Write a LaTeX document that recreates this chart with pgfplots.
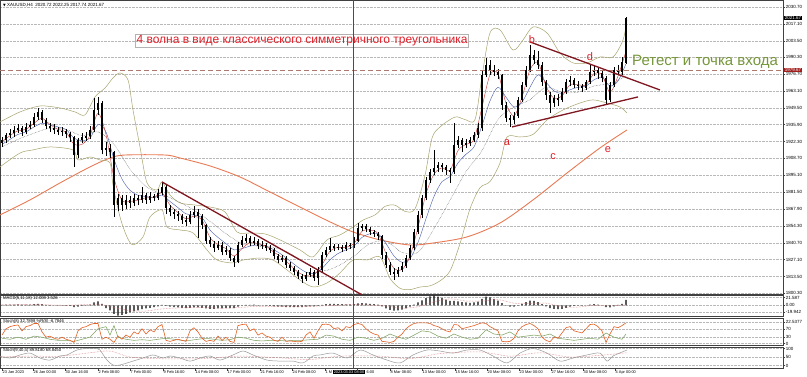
\documentclass[border=0pt]{standalone}
\usepackage{pgfplots}
\pgfplotsset{compat=1.18}
\usepackage{pgfplotstable}
\usepackage{fontspec}
\setmainfont{Liberation Sans}
\newfontfamily\dejavu{DejaVu Sans}
\definecolor{mao}{RGB}{232,122,84}
\definecolor{bbc}{RGB}{168,164,110}
\definecolor{mar}{RGB}{200,50,50}
\definecolor{mab}{RGB}{70,90,170}
\definecolor{trend}{RGB}{128,22,32}
\definecolor{lvl}{RGB}{175,120,110}
\definecolor{gridc}{RGB}{185,185,185}
\definecolor{txtred}{RGB}{222,32,42}
\definecolor{olivetxt}{RGB}{118,150,58}
\definecolor{stocho}{RGB}{228,96,36}
\definecolor{stochg}{RGB}{130,165,100}
\definecolor{lvlbox}{RGB}{160,30,30}
\newcommand{\tinyf}{\fontsize{4.5}{5}\selectfont}
\newcommand{\datef}{\fontsize{3.9}{4.5}\selectfont}

\pgfplotstableread{
x o h l c
2 1921.0 1926.0 1918.0 1923.5
6 1923.5 1929.5 1921.0 1927.5
10 1927.5 1932.0 1925.0 1929.2
14 1929.2 1934.5 1926.0 1931.6
18 1931.6 1936.0 1929.0 1933.2
22 1933.2 1935.0 1927.0 1930.0
26 1930.0 1937.0 1928.0 1934.0
30 1934.0 1939.0 1932.0 1935.6
34 1935.6 1945.0 1934.0 1942.1
38 1942.1 1949.0 1940.0 1946.1
42 1946.1 1947.5 1937.0 1939.6
46 1939.6 1941.0 1932.0 1934.8
50 1934.8 1937.5 1930.0 1933.2
54 1933.2 1936.0 1928.5 1931.6
58 1931.6 1934.0 1927.5 1930.0
62 1930.0 1934.0 1927.0 1930.8
66 1930.8 1932.5 1925.0 1928.4
70 1928.4 1930.0 1922.0 1925.9
74 1925.9 1927.0 1901.8 1911.4
78 1911.4 1925.0 1909.0 1923.5
82 1923.5 1929.0 1921.0 1925.9
86 1925.9 1930.0 1923.0 1926.7
90 1926.7 1935.0 1924.0 1931.6
94 1931.6 1957.4 1930.0 1947.7
98 1947.7 1958.2 1944.0 1953.3
102 1953.3 1955.0 1912.0 1915.5
106 1915.5 1922.0 1911.0 1917.1
110 1917.1 1920.0 1909.0 1913.9
114 1913.9 1915.0 1861.5 1871.1
118 1871.1 1880.0 1866.0 1876.8
122 1876.8 1879.0 1866.5 1871.1
126 1871.1 1879.0 1868.0 1875.2
130 1875.2 1878.0 1869.0 1872.7
134 1872.7 1880.0 1870.0 1876.8
138 1876.8 1879.0 1871.0 1875.2
142 1875.2 1885.7 1873.0 1879.2
146 1879.2 1881.0 1872.0 1875.2
150 1875.2 1881.5 1873.0 1878.4
154 1878.4 1880.0 1874.0 1876.8
158 1876.8 1884.0 1875.0 1880.8
162 1880.8 1889.7 1879.0 1885.7
166 1885.7 1887.0 1864.0 1868.7
170 1868.7 1871.0 1862.0 1865.5
174 1865.5 1868.0 1860.0 1863.9
178 1863.9 1866.0 1858.5 1862.3
182 1862.3 1864.0 1856.0 1859.1
186 1859.1 1862.0 1854.5 1857.5
190 1857.5 1866.0 1855.5 1863.1
194 1863.1 1870.0 1861.0 1865.5
198 1865.5 1867.5 1844.6 1862.3
202 1862.3 1863.5 1852.0 1855.0
206 1855.0 1856.0 1840.0 1842.8
210 1842.8 1845.0 1837.0 1839.7
214 1839.7 1842.0 1833.5 1836.5
218 1836.5 1842.5 1835.0 1838.9
222 1838.9 1841.0 1830.5 1833.3
226 1833.3 1838.0 1831.0 1834.9
230 1834.9 1836.5 1826.0 1828.4
234 1828.4 1830.0 1821.2 1825.2
238 1825.2 1841.0 1824.0 1838.9
242 1838.9 1846.0 1837.0 1842.8
246 1842.8 1848.0 1840.5 1844.4
250 1844.4 1846.0 1838.0 1840.5
254 1840.5 1845.0 1838.5 1842.1
258 1842.1 1844.0 1836.0 1838.1
262 1838.1 1842.0 1836.0 1838.9
266 1838.9 1840.5 1834.0 1836.5
270 1836.5 1839.0 1832.5 1834.9
274 1834.9 1836.5 1827.5 1830.0
278 1830.0 1832.0 1824.0 1826.8
282 1826.8 1831.0 1825.0 1828.4
286 1828.4 1830.0 1820.0 1822.8
290 1822.8 1825.0 1818.0 1820.4
294 1820.4 1822.0 1815.0 1817.2
298 1817.2 1819.0 1811.5 1813.9
302 1813.9 1815.5 1808.3 1811.5
306 1811.5 1817.0 1810.0 1814.7
310 1814.7 1820.0 1813.0 1817.2
314 1817.2 1819.0 1810.0 1812.3
318 1812.3 1821.0 1806.7 1818.8
322 1818.8 1833.0 1817.0 1830.9
326 1830.9 1837.0 1829.0 1834.9
330 1834.9 1844.6 1833.0 1838.1
334 1838.1 1840.0 1834.0 1836.5
338 1836.5 1840.0 1834.5 1837.3
342 1837.3 1839.0 1833.0 1835.7
346 1835.7 1841.0 1834.0 1838.9
350 1838.9 1840.5 1836.0 1838.1
354 1838.1 1845.0 1836.5 1842.8
358 1842.8 1856.6 1841.0 1852.6
362 1852.6 1856.0 1850.0 1854.2
366 1854.2 1855.5 1849.0 1851.8
370 1851.8 1853.5 1847.0 1849.3
374 1849.3 1851.0 1845.5 1847.7
378 1847.7 1849.5 1843.0 1846.1
382 1846.1 1847.0 1828.0 1830.9
386 1830.9 1833.0 1820.0 1822.8
390 1822.8 1825.0 1815.0 1817.2
394 1817.2 1820.0 1810.7 1815.6
398 1815.6 1821.0 1813.0 1818.8
402 1818.8 1825.0 1817.0 1822.0
406 1822.0 1831.0 1820.5 1828.4
410 1828.4 1839.0 1827.0 1836.5
414 1836.5 1852.0 1835.0 1849.3
418 1849.3 1866.0 1848.0 1863.1
422 1863.1 1879.0 1861.0 1876.8
426 1876.8 1894.0 1875.0 1891.3
430 1891.3 1900.0 1889.0 1897.8
434 1897.8 1915.5 1895.0 1901.0
438 1901.0 1906.0 1898.0 1903.4
442 1903.4 1905.0 1897.5 1901.8
446 1901.8 1903.0 1895.0 1899.4
450 1899.4 1901.0 1888.9 1897.8
454 1897.8 1937.2 1896.0 1919.5
458 1919.5 1927.0 1917.0 1923.5
462 1923.5 1925.0 1914.0 1919.5
466 1919.5 1924.0 1917.0 1921.1
470 1921.1 1926.0 1919.0 1923.5
474 1923.5 1930.0 1921.5 1927.5
478 1927.5 1937.0 1925.0 1933.2
482 1933.2 1980.0 1931.0 1975.9
486 1975.9 1989.6 1974.0 1984.0
490 1984.0 1988.0 1976.0 1979.9
494 1979.9 1984.0 1975.0 1978.3
498 1978.3 1981.0 1973.0 1975.9
502 1975.9 1977.0 1948.0 1951.7
506 1951.7 1954.0 1938.0 1941.3
510 1941.3 1944.0 1934.0 1939.6
514 1939.6 1946.0 1936.0 1942.9
518 1942.9 1958.0 1941.0 1955.8
522 1955.8 1970.0 1954.0 1967.9
526 1967.9 1983.0 1966.0 1979.9
530 1979.9 2000.1 1978.0 1992.0
534 1992.0 1996.0 1985.0 1988.0
538 1988.0 1995.0 1981.0 1984.0
542 1984.0 1986.0 1967.0 1970.3
546 1970.3 1972.0 1956.0 1959.8
550 1959.8 1962.0 1945.3 1953.3
554 1953.3 1960.0 1950.0 1957.4
558 1957.4 1960.5 1951.0 1955.8
562 1955.8 1965.0 1954.0 1962.2
566 1962.2 1973.0 1960.5 1970.3
570 1970.3 1975.0 1967.0 1971.9
574 1971.9 1973.5 1965.0 1967.9
578 1967.9 1971.0 1963.5 1967.1
582 1967.1 1969.0 1962.0 1965.5
586 1965.5 1972.0 1964.0 1970.3
590 1970.3 1984.0 1969.0 1978.3
594 1978.3 1983.0 1975.0 1979.9
598 1979.9 1982.0 1973.0 1977.5
602 1977.5 1979.0 1970.0 1973.5
606 1973.5 1975.0 1951.7 1955.8
610 1955.8 1970.0 1954.0 1967.9
614 1967.9 1982.0 1966.0 1979.9
618 1979.9 1984.0 1975.5 1978.3
622 1978.3 1990.0 1976.0 1986.0
626 1986.0 2022.3 1985.0 2021.7
}\candles

\pgfplotstableread{
x r b
2 1922 1920
10 1927 1924
18 1931 1928
26 1932 1930
34 1937 1934
42 1941 1937
50 1936 1936
58 1932 1934
66 1930 1932
74 1920 1925
82 1920 1923
90 1927 1925
98 1945 1936
106 1928 1930
114 1893 1908
122 1875 1892
130 1874 1883
138 1875 1879
146 1877 1878
154 1877 1877
162 1881 1879
170 1871 1874
178 1865 1869
186 1860 1864
194 1862 1863
202 1859 1861
210 1845 1851
218 1839 1845
226 1836 1840
234 1830 1835
242 1836 1836
250 1841 1838
258 1840 1839
266 1838 1838
274 1833 1835
282 1829 1831
290 1823 1826
298 1817 1821
306 1814 1817
314 1815 1816
322 1823 1820
330 1834 1827
338 1837 1832
346 1837 1835
354 1840 1838
362 1850 1845
370 1851 1848
378 1848 1848
386 1832 1840
394 1820 1830
402 1819 1825
410 1830 1828
418 1853 1841
426 1880 1860
434 1896 1878
442 1901 1890
450 1899 1894
458 1915 1905
466 1920 1912
474 1924 1918
482 1950 1935
490 1976 1955
498 1977 1966
506 1953 1958
514 1943 1950
522 1958 1954
530 1980 1966
538 1986 1976
546 1967 1970
554 1957 1963
562 1959 1961
570 1968 1964
578 1968 1966
586 1968 1967
594 1977 1972
602 1976 1974
610 1962 1967
618 1975 1971
626 1995 1985
}\mas

\pgfplotstableread{
x s
2 1918
18 1924
34 1929
50 1933
66 1932
82 1927
98 1930
114 1920
130 1900
146 1886
162 1880
178 1874
194 1867
210 1858
226 1848
242 1840
258 1838
274 1837
290 1832
306 1824
322 1818
338 1822
354 1830
370 1840
386 1842
402 1833
418 1833
434 1852
450 1875
466 1898
482 1915
498 1940
514 1950
530 1956
546 1966
562 1962
578 1962
594 1967
610 1969
626 1975
}\slowma

\pgfplotstableread{
x m
0 1863.1
30 1875.2
60 1888.9
90 1901.8
110 1909.0
125 1911.4
165 1911.4
180 1909.0
210 1902.6
240 1893.7
270 1881.6
300 1869.5
330 1857.5
353 1849.4
380 1843.0
410 1838.9
433 1840.5
467 1845.4
500 1856.6
533 1875.2
567 1896.9
600 1917.1
627 1931.6
}\bigma

\pgfplotstableread{
x u
0 1938.0
20 1946.1
40 1950.9
60 1949.3
75 1946.1
85 1943.7
95 1958.2
105 1965.4
113 1973.5
120 1977.5
128 1971.9
133 1947.7
140 1917.9
147 1888.9
157 1883.2
162 1889.7
170 1879.2
180 1872.8
195 1871.1
210 1869.5
225 1865.5
237 1849.4
250 1848.6
265 1847.8
280 1843.0
300 1834.9
313 1829.3
327 1843.0
340 1847.0
353 1853.4
363 1859.0
375 1863.1
385 1870.0
395 1871.0
405 1866.0
415 1868.0
425 1895.0
432 1925.0
440 1934.0
455 1942.0
465 1940.0
475 1940.0
482 1975.0
490 2009.8
500 2012.2
513 1996.0
523 2004.1
533 2014.6
547 2009.8
560 1993.6
573 1985.6
587 1985.6
600 1990.4
613 1990.4
623 2004.1
627 2020.2
}\bbup

\pgfplotstableread{
x d
0 1901.8
20 1913.0
33 1915.5
50 1917.9
73 1915.5
78 1907.4
90 1909.8
100 1907.4
110 1905.0
113 1887.3
120 1861.5
127 1845.4
133 1839.0
143 1845.4
150 1861.5
162 1867.1
167 1853.4
180 1851.0
193 1848.6
207 1834.9
217 1826.8
233 1824.4
243 1826.8
260 1828.4
273 1826.8
287 1818.8
300 1810.7
313 1805.1
327 1808.3
340 1816.4
353 1826.8
367 1826.8
380 1829.3
390 1812.0
400 1804.0
410 1803.0
420 1805.0
430 1806.0
440 1810.0
450 1818.0
460 1840.0
470 1868.0
480 1885.0
490 1890.0
500 1905.0
507 1925.9
520 1925.9
533 1928.0
547 1939.6
563 1947.7
580 1953.3
593 1955.8
607 1953.3
620 1950.1
627 1945.3
}\bbdn

\pgfplotstableread{
x v
2 1
6 1.5
10 2
14 2
18 2.5
22 1.5
26 2
30 2
34 3
38 4
42 3
46 1
50 0.5
54 -0.5
58 -1
62 -1
66 -1.5
70 -2
74 -5
78 -4
82 -2
86 -1
90 2
94 8
98 11
102 4
106 -8
110 -14
114 -24
118 -29
122 -27
126 -24
130 -20
134 -17
138 -14
142 -11
146 -9
150 -7
154 -5
158 -3
162 1
166 -2
170 -4
174 -5
178 -6
182 -7
186 -8
190 -7
194 -6
198 -6
202 -7
206 -9
210 -10
214 -10
218 -9
222 -9
226 -8
230 -8
234 -8
238 -4
242 -1
246 1
250 1
254 1.5
258 0.5
262 0
266 -1
270 -2
274 -3
278 -4
282 -4
286 -5
290 -5
294 -5
298 -5
302 -5
306 -4
310 -3
314 -3
318 -2
322 1
326 3
330 4
334 4
338 3.5
342 3
346 2.5
350 2.5
354 3
358 5
362 6
366 5
370 4
374 3
378 2
382 -3
386 -9
390 -13
394 -15
398 -14
402 -12
406 -9
410 -4
414 2
418 8
422 14
426 20
430 25
434 27
438 24
442 20
446 16
450 12
454 12
458 11
462 9
466 8
470 7
474 8
478 10
482 18
486 24
490 22
494 18
498 13
502 6
506 -1
510 -4
514 -4
518 -1
522 4
526 9
530 13
534 12
538 9
542 3
546 -3
550 -8
554 -10
558 -11
562 -10
566 -7
570 -4
574 -2
578 -1
582 -1
586 0
590 2
594 3
598 2
602 0
606 -5
610 -6
614 -3
618 1
622 4
626 15
}\macdh

\pgfplotstableread{
x s
2 1
34 2
66 0
98 3
114 -6
130 -15
146 -16
162 -10
194 -6
226 -8
258 -3
290 -4
322 -2
354 2
386 -2
402 -8
418 -4
434 10
450 18
466 12
482 12
498 16
514 6
530 5
546 6
562 -4
578 -5
594 0
610 -2
626 2
}\macds

\pgfplotstableread{
x v
2 40
6 70
10 80
14 85
18 88
22 60
26 80
30 85
34 95
38 95
42 55
46 30
50 35
54 25
58 20
62 30
66 20
70 15
74 5
78 60
82 75
86 80
90 90
94 95
98 95
102 20
106 30
110 20
114 5
118 35
122 20
126 40
130 30
134 55
138 45
142 70
146 45
150 65
154 55
158 80
162 90
166 15
170 10
174 15
178 20
182 15
186 10
190 60
194 75
198 55
202 25
206 10
210 15
214 10
218 35
222 15
226 30
230 10
234 5
238 85
242 90
246 92
250 60
254 70
258 40
262 50
266 35
270 30
274 15
278 10
282 30
286 10
290 12
294 10
298 8
302 10
306 40
310 55
314 25
318 60
322 90
326 92
330 88
334 70
338 75
342 60
346 80
350 75
354 90
358 95
362 90
366 70
370 55
374 45
378 40
382 10
386 8
390 5
394 10
398 30
402 45
406 70
410 85
414 95
418 98
422 98
426 98
430 95
434 85
438 80
442 70
446 60
450 55
454 90
458 88
462 70
466 75
470 80
474 85
478 92
482 98
486 95
490 80
494 70
498 60
502 10
506 8
510 10
514 25
518 60
522 80
526 90
530 95
534 85
538 70
542 30
546 15
550 8
554 30
558 25
562 50
566 75
570 80
574 60
578 55
582 50
586 70
590 90
594 92
598 80
602 60
606 5
610 45
614 80
618 75
622 85
626 98
}\stoa

\pgfplotstableread{
x v
2 25
10 20
18 30
26 20
34 35
42 30
50 20
58 15
66 15
74 10
82 20
90 30
98 70
106 80
110 40
114 85
118 30
126 20
134 15
142 18
150 15
158 20
166 25
174 20
182 15
190 15
198 20
206 25
214 20
222 15
230 18
238 30
246 25
254 15
262 12
270 15
278 15
286 12
294 15
302 15
310 18
318 20
326 40
334 35
342 20
350 15
358 30
366 25
374 15
382 25
390 45
398 30
406 20
414 40
422 60
430 55
438 35
446 25
454 45
462 30
470 20
478 25
486 65
494 45
502 40
510 55
518 30
526 35
534 40
542 35
550 45
558 25
566 20
574 15
582 20
590 25
598 20
606 50
614 30
622 20
626 45
}\stob

\pgfplotstableread{
x v
0 54
10 44
20 62
30 73
40 44
50 32
60 56
67 62
77 91
87 100
97 100
100 91
107 32
113 3
120 3
133 26
143 44
153 62
163 44
170 56
180 44
190 26
200 44
210 56
220 32
233 62
243 85
253 62
267 32
280 26
293 26
303 15
313 56
320 62
333 73
347 44
360 91
373 62
387 32
400 15
413 62
427 91
440 85
453 73
467 91
480 91
493 56
507 15
520 73
533 100
547 73
560 26
573 44
587 62
600 73
607 26
613 56
627 91
}\stc

\pgfplotstableread{
x v
0 50
30 55
60 55
90 75
110 85
130 50
160 40
200 40
240 55
280 45
310 35
340 55
380 55
410 40
440 70
480 80
510 55
540 75
570 50
600 60
627 75
}\stcs

\pgfplotsset{panel/.style={scale only axis, width=783pt, xmin=0, xmax=783, anchor=south west,
  axis line style={black!75, line width=0.6pt}, xtick=\empty, tick align=outside, major tick length=2pt,
  ytick pos=right, yticklabel pos=right, yticklabel style={font=\tinyf, inner sep=0.6pt},
  /pgf/number format/assume math mode=true, clip mode=individual,
  ymajorgrids, major grid style={gridc, densely dotted, line width=0.4pt},
  tick style={black!75, line width=0.4pt}}}

\begin{document}
\begin{tikzpicture}[x=1pt,y=1pt]
\useasboundingbox (0,0) rectangle (807,376);
\fill[white] (0,0) rectangle (807,376);

% background vertical grid
\begin{axis}[at={(0pt,7.5pt)}, anchor=south west, width=783pt, height=368.5pt, scale only axis,
  xmin=0, xmax=783, ymin=0, ymax=1, axis lines=none, major tick length=0pt,
  xtick={17.67,37.84,...,783}, xticklabels={}, ytick=\empty,
  xmajorgrids, major grid style={gridc, densely dotted, line width=0.4pt},
  extra x ticks={58,118.5,...,783}, extra x tick labels={},
  extra x tick style={grid=major, major grid style={black!50, dash pattern=on 1.6pt off 1.4pt, line width=0.45pt}}]
\addplot[draw=none] coordinates {(0,0) (783,1)};
\end{axis}

% main price panel
\begin{axis}[panel, at={(0pt,81.5pt)}, height=294.5pt, ymin=1799.0, ymax=2036.3,
  ytick={1800.3,1813.5,1827.1,1840.7,1854.3,1867.9,1881.5,1895.1,1908.7,1922.3,1935.9,1949.5,1963.1,1976.7,1990.3,2003.5,2017.1,2030.7},
  yticklabels={1800.30,1813.50,1827.10,1840.70,1854.30,1867.90,1881.50,1895.10,1908.70,1922.30,1935.90,1949.50,1963.10,1976.70,1990.30,2003.50,2017.10,2030.70}]
\addplot[mao, line width=0.9pt, smooth] table[x=x,y=m] {\bigma};
\addplot[bbc, line width=0.5pt, smooth] table[x=x,y=u] {\bbup};
\addplot[bbc, line width=0.5pt, smooth] table[x=x,y=d] {\bbdn};
\addplot[black!70, line width=0.45pt, densely dotted, smooth] table[x=x,y=s] {\slowma};
\addplot[mab, line width=0.4pt, smooth] table[x=x,y=b] {\mas};
\addplot[mar, line width=0.4pt, smooth] table[x=x,y=r] {\mas};
\addplot[draw=none, mark=none, error bars/.cd, y dir=plus, y explicit, error mark=none,
  error bar style={draw=black, solid, line width=0.5pt}]
  table[x=x, y=l, y error expr=\thisrow{h}-\thisrow{l}] {\candles};
\addplot[draw=none, mark=none, error bars/.cd, y dir=both, y explicit, error mark=none,
  error bar style={draw=black, solid, line width=1.7pt}]
  table[x=x, y expr=(\thisrow{o}+\thisrow{c})/2, y error expr=abs(\thisrow{o}-\thisrow{c})/2+0.3] {\candles};
\addplot[lvl, line width=0.8pt, dash pattern=on 5pt off 3pt] coordinates {(0,1979.67) (783,1979.67)};
\addplot[trend, line width=1.3pt] coordinates {(162,1889.7) (362,1798.7)};
\addplot[trend, line width=1.3pt] coordinates {(530,2002.5) (660,1963.8)};
\addplot[trend, line width=1.3pt] coordinates {(512,1934.0) (638,1958.2)};
\node[draw=gray!60, line width=0.4pt, text=txtred, font=\fontsize{12}{13}\selectfont, inner sep=1pt] at (axis cs:302,2003.3) {4 волна в виде классического симметричного треугольника};
\node[text=olivetxt, anchor=west, font=\fontsize{15}{16}\selectfont, inner sep=0pt] at (axis cs:632,1986.4) {Ретест и точка входа};
\node[text=txtred, font=\fontsize{11}{12}\selectfont] at (axis cs:507,1921.1) {a};
\node[text=txtred, font=\fontsize{11}{12}\selectfont] at (axis cs:532,2004.1) {b};
\node[text=txtred, font=\fontsize{11}{12}\selectfont] at (axis cs:553,1909.8) {c};
\node[text=txtred, font=\fontsize{11}{12}\selectfont] at (axis cs:590,1990.4) {d};
\node[text=txtred, font=\fontsize{11}{12}\selectfont] at (axis cs:608,1915.5) {e};
\node[fill=black, text=white, anchor=west, inner sep=0.6pt, font=\tinyf] at (axis cs:784,2021.67) {2021.67};
\node[fill=lvlbox, text=white, anchor=west, inner sep=0.6pt, font=\tinyf] at (axis cs:784,1979.67) {1979.67};
\end{axis}

% MACD panel
\begin{axis}[panel, at={(0pt,59.5pt)}, height=21pt, ymin=-31.4, ymax=27.4,
  ytick={-19.942,0,21.587}, yticklabels={-19.942,0.00,21.587}]
\addplot[ybar, bar width=1.4pt, fill=black, draw=none] table[x=x,y=v] {\macdh};
\addplot[mar!70, line width=0.5pt, densely dotted, smooth] table[x=x,y=s] {\macds};
\end{axis}

% oscillator panel 1
\begin{axis}[panel, at={(0pt,30.5pt)}, height=27.5pt, ymin=-9.5, ymax=121,
  ytick={0,30,70,100}, yticklabels={0,30,70,22.5377}]
\addplot[stochg, line width=0.55pt] table[x=x,y=v] {\stob};
\addplot[stocho, line width=0.6pt] table[x=x,y=v] {\stoa};
\end{axis}

% oscillator panel 2
\begin{axis}[panel, at={(0pt,7.5pt)}, height=21.5pt, ymin=-17.6, ymax=108.8,
  ytick={0,50,100}, yticklabels={0,50,100},
  xtick={2,33,65,98,130,163,195,227,260,292,325,357,390,422,455,487,519,551,583,615},
  xticklabels={23 Jan 2023,26 Jan 00:00,30 Jan 16:00,2 Feb 08:00,7 Feb 00:00,9 Feb 16:00,14 Feb 08:00,17 Feb 00:00,21 Feb 16:00,24 Feb 08:00,1 M,,8 Mar 08:00,13 Mar 00:00,15 Mar 16:00,20 Mar 08:00,23 Mar 00:00,27 Mar 16:00,30 Mar 08:00,4 Apr 00:00},
  xtick pos=bottom, xticklabel style={font=\datef, anchor=north west, inner sep=0.5pt, yshift=0.5pt}]
\addplot[gray!80, line width=0.5pt, smooth] table[x=x,y=v] {\stc};
\addplot[mar!70, line width=0.5pt, densely dotted, smooth] table[x=x,y=v] {\stcs};
\end{axis}

% crosshair and labels
\draw[black!70, line width=0.5pt] (353,7.5) -- (353,376);
\node[fill=black, text=white, inner sep=0.6pt, font=\datef] at (349,3.6) {2023.03.03 08:00};
\node[anchor=west, inner sep=0.5pt, font=\datef] at (366,3.6) {6:00};
\node[anchor=west, inner sep=0pt, font=\tinyf] at (3,371) {{\dejavu\fontsize{3.5}{4}\selectfont ▼} XAUUSD,H4\ \ 2020.72 2022.25 2017.74 2021.67};
\node[anchor=west, inner sep=0pt, font=\fontsize{4.2}{5}\selectfont] at (3,77.5) {MACD(5,11,18) 12.008 3.526};
\node[anchor=west, inner sep=0pt, font=\fontsize{4.2}{5}\selectfont] at (3,54.5) {Stoch(8) 32.7898 \%R(8) -6.7846};
\node[anchor=west, inner sep=0pt, font=\fontsize{4.2}{5}\selectfont] at (3,25.5) {Stoch(9,40,4) 89.8180 68.8450};
\end{tikzpicture}
\end{document}
